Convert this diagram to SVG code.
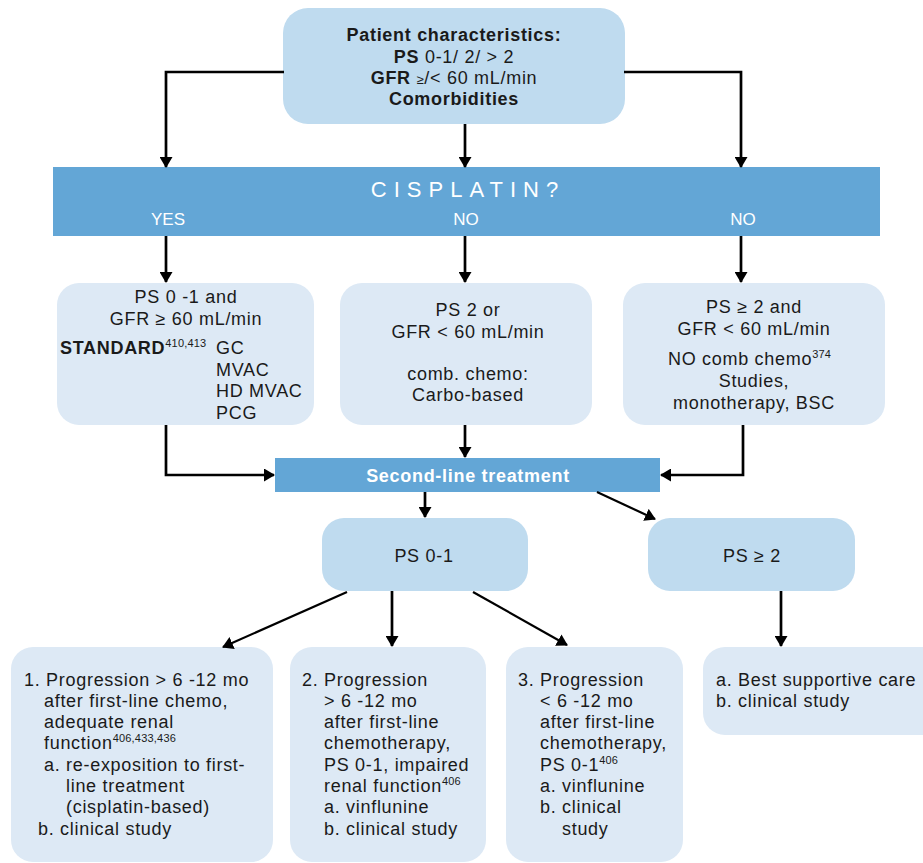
<svg xmlns="http://www.w3.org/2000/svg" width="923" height="863" viewBox="0 0 923 863">
<style>
text{font-family:"Liberation Sans",Arial,Helvetica,sans-serif;font-size:18px;fill:#1a1a1a;letter-spacing:0.7px}
.c{text-anchor:middle}
.b{font-weight:bold}
.w{fill:#ffffff}
.sup{font-size:11px;letter-spacing:0.2px}
.dark{fill:#bfdbef}
.light{fill:#dde9f5}
.bar{fill:#63a6d6}
.con path{fill:none;stroke:#000;stroke-width:2.7;marker-end:url(#ah)}
.con path.d{stroke-width:2.2}
</style>
<defs>
<marker id="ah" viewBox="0 0 11 13" refX="10" refY="6.5" markerWidth="11" markerHeight="13" markerUnits="userSpaceOnUse" orient="auto">
<path d="M0,0 L11,6.5 L0,13 z" fill="#000"/>
</marker>
</defs>
<rect width="923" height="863" fill="#ffffff"/>

<g id="patient">
<rect class="dark" x="283" y="8" width="342" height="116" rx="25"/>
<text class="c b" x="454" y="41">Patient characteristics:</text>
<text class="c" x="454" y="63"><tspan class="b">PS</tspan> 0-1/ 2/ &gt; 2</text>
<text class="c" x="454" y="84"><tspan class="b">GFR</tspan> <tspan font-size="13">≥</tspan>/&lt; 60 mL/min</text>
<text class="c b" x="454" y="105">Comorbidities</text>
</g>

<g id="cisplatin">
<rect class="bar" x="53" y="167" width="827" height="69"/>
<text class="c w" x="468" y="197" style="font-size:22px;letter-spacing:7px">CISPLATIN?</text>
<text class="c w" x="168" y="225" style="font-size:17px;letter-spacing:0">YES</text>
<text class="c w" x="466" y="225" style="font-size:17px;letter-spacing:0">NO</text>
<text class="c w" x="743" y="225" style="font-size:17px;letter-spacing:0">NO</text>
</g>

<g id="yes-box">
<rect class="light" x="57" y="283" width="257" height="142" rx="22"/>
<text class="c" x="186" y="303">PS 0 -1 and</text>
<text class="c" x="186" y="325">GFR ≥ 60 mL/min</text>
<text x="60" y="354"><tspan class="b">STANDARD</tspan><tspan class="sup" dy="-7">410,413</tspan></text>
<text x="216" y="354">GC</text>
<text x="216" y="376">MVAC</text>
<text x="216" y="397">HD MVAC</text>
<text x="216" y="419">PCG</text>
</g>

<g id="no-box-1">
<rect class="light" x="340" y="283" width="252" height="142" rx="22"/>
<text class="c" x="468" y="316">PS 2 or</text>
<text class="c" x="468" y="338">GFR &lt; 60 mL/min</text>
<text class="c" x="468" y="380">comb. chemo:</text>
<text class="c" x="468" y="401">Carbo-based</text>
</g>

<g id="no-box-2">
<rect class="light" x="623" y="283" width="262" height="142" rx="22"/>
<text class="c" x="754" y="313">PS ≥ 2 and</text>
<text class="c" x="754" y="335">GFR &lt; 60 mL/min</text>
<text x="668" y="365">NO comb chemo<tspan class="sup" dy="-7">374</tspan></text>
<text class="c" x="754" y="387">Studies,</text>
<text class="c" x="754" y="409">monotherapy, BSC</text>
</g>

<g id="second-line">
<rect class="bar" x="275" y="458" width="385" height="34"/>
<text class="c b w" x="468" y="482">Second-line treatment</text>
</g>

<g id="ps01">
<rect class="dark" x="322" y="518" width="206" height="73" rx="22"/>
<text class="c" x="424" y="562">PS 0-1</text>
</g>

<g id="ps2">
<rect class="dark" x="648" y="518" width="207" height="73" rx="22"/>
<text class="c" x="752" y="562">PS ≥ 2</text>
</g>

<g id="option-1">
<rect class="light" x="11" y="647" width="262" height="215" rx="22"/>
<text x="24" y="686">1. Progression &gt; 6 -12 mo</text>
<text x="44" y="707">after first-line chemo,</text>
<text x="44" y="728">adequate renal</text>
<text x="44" y="749">function<tspan class="sup" dy="-7">406,433,436</tspan></text>
<text x="44" y="771">a. re-exposition to first-</text>
<text x="66" y="792">line treatment</text>
<text x="66" y="813">(cisplatin-based)</text>
<text x="38" y="835">b. clinical study</text>
</g>

<g id="option-2">
<rect class="light" x="290" y="647" width="196" height="215" rx="22"/>
<text x="302" y="686">2. Progression</text>
<text x="324" y="707">&gt; 6 -12 mo</text>
<text x="324" y="728">after first-line</text>
<text x="324" y="749">chemotherapy,</text>
<text x="324" y="771">PS 0-1, impaired</text>
<text x="324" y="792">renal function<tspan class="sup" dy="-7">406</tspan></text>
<text x="324" y="813">a. vinflunine</text>
<text x="324" y="835">b. clinical study</text>
</g>

<g id="option-3">
<rect class="light" x="506" y="647" width="177" height="215" rx="22"/>
<text x="518" y="686">3. Progression</text>
<text x="540" y="707">&lt; 6 -12 mo</text>
<text x="540" y="728">after first-line</text>
<text x="540" y="749">chemotherapy,</text>
<text x="540" y="771">PS 0-1<tspan class="sup" dy="-7">406</tspan></text>
<text x="540" y="792">a. vinflunine</text>
<text x="540" y="813">b. clinical</text>
<text x="562" y="835">study</text>
</g>

<g id="option-4">
<rect class="light" x="703" y="647" width="240" height="88" rx="22"/>
<text x="716" y="686">a. Best supportive care</text>
<text x="716" y="707">b. clinical study</text>
</g>

<g id="connectors" class="con">
<path d="M284,72 H166 V167"/>
<path d="M465,124 V167"/>
<path d="M624,72 H741 V167"/>
<path d="M166,236 V282"/>
<path d="M465,236 V282"/>
<path d="M741,236 V282"/>
<path d="M166,425 V475 H274"/>
<path d="M465,425 V457"/>
<path d="M743,425 V475 H661"/>
<path d="M425,492 V517"/>
<path class="d" d="M597,492 L655,519"/>
<path class="d" d="M347,592 L223,647"/>
<path d="M392,591 V646"/>
<path class="d" d="M473,592 L567,645"/>
<path d="M781,591 V646"/>
</g>
</svg>
